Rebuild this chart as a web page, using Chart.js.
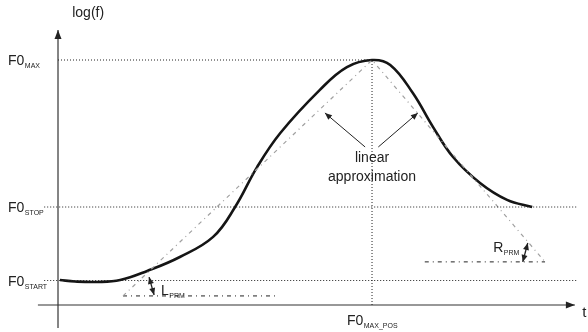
<!DOCTYPE html>
<html>
<head>
<meta charset="utf-8">
<script src="https://cdn.jsdelivr.net/npm/chart.js@4"></script>
<style>
  body { margin: 0; background: #fff; }
  canvas { display: block; }
</style>
</head>
<body>
<canvas id="f0Chart" width="588" height="332"></canvas>
<script>
// F0 contour sketch: log(f) over time, with its linear approximation

// smooth contour (time, log f)
const curveT    = [0.3, 2.7, 6.2, 9.9, 14.2, 19.4, 24.7, 28.2, 31.7, 35.4, 41.7, 46.0, 50.0, 52.9, 56.5, 59.7, 62.9, 67.2, 71.5, 75.5];
const curveLogF = [1.02, 0.96, 0.94, 1.02, 1.39, 1.96, 2.78, 4.0, 5.63, 7.02, 8.78, 9.71, 10.0, 9.8, 8.65, 7.27, 6.04, 4.98, 4.29, 4.0];

// linear approximation: rise to the peak, then fall
const approxT    = [10.35, 50, 77.55];
const approxLogF = [0.37, 10, 1.76];

// reference levels
const levelSubs   = ['MAX', 'STOP', 'START'];
const levelValues = [10, 4, 1];
const maxPosT = 50;

// baselines of the two slopes
const lprmT = [10.35, 34.9];
const lprmLogF = 0.37;
const rprmT = [58.4, 77.55];
const rprmLogF = 1.76;

// axes extents
const xAxisT = [-3.2, 82.3];
const yAxisLogF = [-0.94, 11.22];
const levelLineT = [-2.2, 82.8];

function pts(ts, vs) {
  return ts.map(function(t, i) { return { x: t, y: Array.isArray(vs) ? vs[i] : vs }; });
}

function arrowHead(ctx, x0, y0, x1, y1, len, half) {
  const a = Math.atan2(y1 - y0, x1 - x0);
  ctx.beginPath();
  ctx.moveTo(x1, y1);
  ctx.lineTo(x1 - len * Math.cos(a) + half * Math.sin(a), y1 - len * Math.sin(a) - half * Math.cos(a));
  ctx.lineTo(x1 - len * Math.cos(a) - half * Math.sin(a), y1 - len * Math.sin(a) + half * Math.cos(a));
  ctx.closePath();
  ctx.fill();
}

function arrow(ctx, a, b, both) {
  ctx.beginPath();
  ctx.moveTo(a[0], a[1]);
  ctx.lineTo(b[0], b[1]);
  ctx.stroke();
  arrowHead(ctx, a[0], a[1], b[0], b[1], 7, 3);
  if (both) arrowHead(ctx, b[0], b[1], a[0], a[1], 7, 3);
}

function subText(ctx, main, sub, x, y, align) {
  ctx.font = '14px "Liberation Sans", Arial, sans-serif';
  const w1 = ctx.measureText(main).width;
  ctx.font = '7px "Liberation Sans", Arial, sans-serif';
  const w2 = ctx.measureText(sub).width;
  let left = x;
  if (align === 'center') left = x - (w1 + w2) / 2;
  ctx.textAlign = 'left';
  ctx.textBaseline = 'alphabetic';
  ctx.font = '14px "Liberation Sans", Arial, sans-serif';
  ctx.fillText(main, left, y + 5);
  ctx.font = '7px "Liberation Sans", Arial, sans-serif';
  ctx.fillText(sub, left + w1 + 0.5, y + 8);
}

const annotate = {
  id: 'annotate',
  afterDatasetsDraw(chart) {
    const { ctx, scales: { x, y } } = chart;
    const P = function(t, v) { return [x.getPixelForValue(t), y.getPixelForValue(v)]; };
    ctx.save();
    ctx.fillStyle = '#222';
    ctx.strokeStyle = '#222';
    ctx.lineWidth = 1;

    // axis arrow heads
    const yTip = P(0, yAxisLogF[1]);
    arrowHead(ctx, yTip[0], yTip[1] + 10, yTip[0], yTip[1], 9, 3.5);
    const xTip = P(xAxisT[1], 0);
    arrowHead(ctx, xTip[0] - 10, xTip[1], xTip[0], xTip[1], 9, 3.5);

    // pointers to the linear approximation
    arrow(ctx, P(48.9, 6.45), P(42.5, 7.84), false);
    arrow(ctx, P(51.0, 6.45), P(57.3, 7.84), false);

    // slope markers
    ctx.lineWidth = 1.3;
    arrow(ctx, P(14.5, 1.14), P(15.3, 0.41), true);
    arrow(ctx, P(74.8, 2.53), P(74.0, 1.76), true);

    // texts
    ctx.font = '14px "Liberation Sans", Arial, sans-serif';
    ctx.textAlign = 'center';
    ctx.textBaseline = 'middle';
    let p = P(4.8, 11.92);
    ctx.fillText('log(f)', p[0], p[1]);
    p = P(50, 6.0);
    ctx.fillText('linear', p[0], p[1]);
    p = P(50, 5.22);
    ctx.fillText('approximation', p[0], p[1]);
    p = P(83.8, -0.33);
    ctx.font = '15px "Liberation Sans", Arial, sans-serif';
    ctx.fillText('t', p[0], p[1]);

    levelValues.forEach(function(v, i) {
      const q = P(-7.96, v);
      subText(ctx, 'F0', levelSubs[i], q[0], q[1], 'left');
    });
    p = P(maxPosT, -0.61);
    subText(ctx, 'F0', 'MAX_POS', p[0], p[1], 'center');
    p = P(16.4, 0.61);
    subText(ctx, 'L', 'PRM', p[0], p[1], 'left');
    p = P(69.3, 2.37);
    subText(ctx, 'R', 'PRM', p[0], p[1], 'left');
    ctx.restore();
  }
};

const dotted = { borderColor: '#222', borderWidth: 1, borderDash: [1, 2], pointRadius: 0, showLine: true, tension: 0 };

new Chart(document.getElementById('f0Chart'), {
  type: 'scatter',
  data: {
    datasets: [
      Object.assign({ data: pts([0, maxPosT], levelValues[0]) }, dotted),
      Object.assign({ data: pts(levelLineT, levelValues[1]) }, dotted),
      Object.assign({ data: pts(levelLineT, levelValues[2]) }, dotted),
      Object.assign({ data: [{ x: maxPosT, y: 0 }, { x: maxPosT, y: levelValues[0] }] }, dotted),
      {
        data: pts(approxT, approxLogF),
        showLine: true, borderColor: '#a0a0a0', borderWidth: 1.2,
        borderDash: [4, 4, 1, 4], pointRadius: 0, tension: 0
      },
      {
        data: pts(lprmT, lprmLogF),
        showLine: true, borderColor: '#222', borderWidth: 1,
        borderDash: [4, 4, 1, 4], pointRadius: 0
      },
      {
        data: pts(rprmT, rprmLogF),
        showLine: true, borderColor: '#222', borderWidth: 1,
        borderDash: [4, 4, 1, 4], pointRadius: 0
      },
      {
        data: pts(xAxisT, 0),
        showLine: true, borderColor: '#333', borderWidth: 1.2, pointRadius: 0
      },
      {
        data: [{ x: 0, y: yAxisLogF[0] }, { x: 0, y: yAxisLogF[1] }],
        showLine: true, borderColor: '#333', borderWidth: 1.2, pointRadius: 0
      },
      {
        data: pts(curveT, curveLogF),
        showLine: true, borderColor: '#151515', borderWidth: 2.6,
        pointRadius: 0, tension: 0.4
      }
    ]
  },
  options: {
    responsive: false,
    animation: false,
    layout: { padding: 0 },
    plugins: { legend: { display: false }, tooltip: { enabled: false } },
    scales: {
      x: { type: 'linear', min: -9.236, max: 84.39, display: false },
      y: { type: 'linear', min: -1.102, max: 12.449, display: false }
    }
  },
  plugins: [annotate]
});
</script>
</body>
</html>
